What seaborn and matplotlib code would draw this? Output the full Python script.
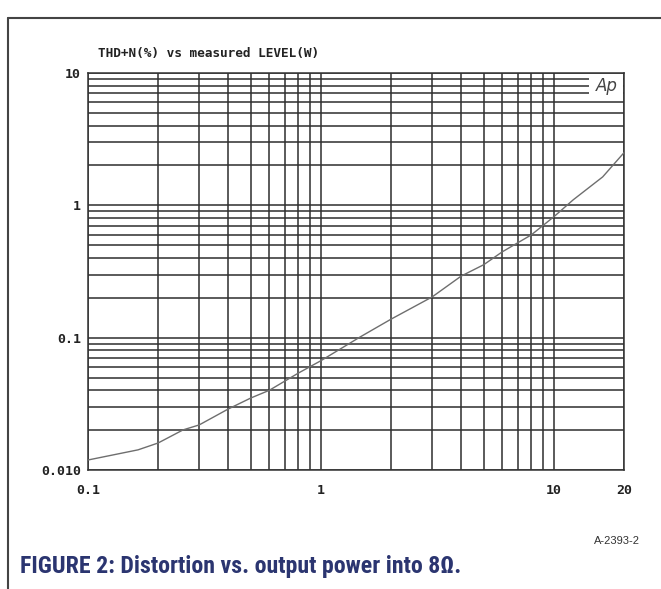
import numpy as np
import pandas as pd
import matplotlib
matplotlib.use("Agg")
import matplotlib.pyplot as plt
from matplotlib.lines import Line2D
from matplotlib.patches import Rectangle
from matplotlib.ticker import FixedLocator, NullFormatter
from matplotlib import font_manager as fm
import seaborn as sns

# Data
power_w = [0.1, 0.164, 0.2, 0.256, 0.3, 0.4, 0.5, 0.6, 0.8, 1.0, 1.47, 2.0, 3.0, 4.0, 5.0, 6.0, 8.0, 10.0, 12.1, 16.2, 20.0]
thd_pct = [0.0119, 0.0142, 0.016, 0.0201, 0.0219, 0.0289, 0.035, 0.040, 0.054, 0.067, 0.101, 0.138, 0.203, 0.292, 0.356, 0.445, 0.598, 0.82, 1.1, 1.64, 2.5]
x_ticks = [0.1, 1, 10, 20]
x_labels = ["0.1", "1", "10", "20"]
y_ticks = [0.01, 0.1, 1, 10]
y_labels = ["0.010", "0.1", "1", "10"]
title = "THD+N(%) vs measured LEVEL(W)"
caption = "FIGURE 2: Distortion vs. output power into 8\u03a9."
code = "A-2393-2"

sns.set_style("white")
plt.rcParams["font.family"] = ["DejaVu Sans"]

# find a condensed bold font if installed
names = {f.name for f in fm.fontManager.ttflist}
cap_family = None
for cand in ["Liberation Sans Narrow", "Roboto Condensed", "Open Sans Condensed", "DejaVu Sans Condensed"]:
    if cand in names:
        cap_family = cand
        break
cap_props = dict(fontweight="bold")
if cap_family is None:
    cap_props["fontfamily"] = "DejaVu Sans"
    cap_props["fontstretch"] = "condensed"
else:
    cap_props["fontfamily"] = cap_family

fig = plt.figure(figsize=(6.61, 5.89), dpi=100)
ax = fig.add_axes([88 / 661, 1 - 470 / 589, 536 / 661, 397 / 589])

df = pd.DataFrame({"P": power_w, "THD": thd_pct})
sns.lineplot(data=df, x="P", y="THD", ax=ax, color="#6e6e6e", linewidth=1.0, zorder=5)

ax.set_xscale("log")
ax.set_yscale("log")
ax.set_xlim(0.1, 20)
ax.set_ylim(0.01, 10)

ax.xaxis.set_major_locator(FixedLocator(x_ticks))
ax.yaxis.set_major_locator(FixedLocator(y_ticks))
xminor = [m * d for d in [0.1, 1, 10] for m in range(2, 10) if m * d < 20]
yminor = [m * d for d in [0.01, 0.1, 1] for m in range(2, 10)]
ax.xaxis.set_minor_locator(FixedLocator(xminor))
ax.yaxis.set_minor_locator(FixedLocator(yminor))
ax.xaxis.set_minor_formatter(NullFormatter())
ax.yaxis.set_minor_formatter(NullFormatter())
ax.set_xticklabels(x_labels)
ax.set_yticklabels(y_labels)

for lab in ax.get_xticklabels() + ax.get_yticklabels():
    lab.set_fontfamily("DejaVu Sans Mono")
    lab.set_fontweight("bold")
    lab.set_fontsize(9.5)
    lab.set_color("#222222")
ax.tick_params(which="both", length=0)
ax.tick_params(axis="x", pad=10)
ax.tick_params(axis="y", pad=5)

ax.grid(True, which="both", color="#2e2e2e", linewidth=1.1)
ax.set_axisbelow(True)
for s in ax.spines.values():
    s.set_color("#333333")
    s.set_linewidth(1.1)
ax.set_xlabel("")
ax.set_ylabel("")

# Ap logo box
ax.add_patch(Rectangle((0.935, 0.938), 0.063, 0.060, transform=ax.transAxes,
                       facecolor="white", edgecolor="none", zorder=3))
ax.text(0.988, 0.968, "Ap", transform=ax.transAxes, ha="right", va="center",
        fontsize=12, style="italic", color="#444444", fontfamily="DejaVu Sans",
        fontweight="light", zorder=4)

fig.text(98 / 661, 1 - 53 / 589, title, ha="left", va="center",
         fontfamily="DejaVu Sans Mono", fontweight="bold", fontsize=9.2, color="#222222")

fig.text(640 / 661, 1 - 541 / 589, code, ha="right", va="center",
         fontfamily="Liberation Sans", fontsize=8, color="#333333")

fig.text(20 / 661, 1 - 567 / 589, caption, ha="left", va="center",
         fontsize=17.2, color="#2b3570", **cap_props)

# outer frame
fig.add_artist(Line2D([8 / 661, 8 / 661], [1 - 18 / 589, 0], transform=fig.transFigure,
                      color="#444444", linewidth=1.5))
fig.add_artist(Line2D([8 / 661, 1], [1 - 18 / 589, 1 - 18 / 589], transform=fig.transFigure,
                      color="#444444", linewidth=1.5))

fig.savefig("out.png", dpi=100)
